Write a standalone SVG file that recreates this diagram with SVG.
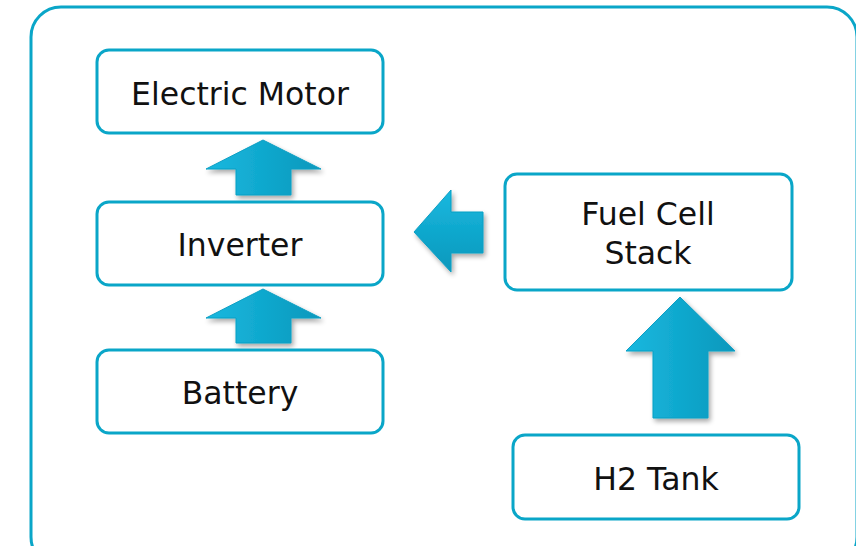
<svg xmlns="http://www.w3.org/2000/svg" width="856" height="546" viewBox="0 0 856 546">
<style>
.box{fill:#fff;stroke:#0aa6c8;stroke-width:3}
.lbl{font-family:"DejaVu Sans",Verdana,sans-serif;font-size:31.5px;fill:#111;text-anchor:middle}
.arrow{fill:url(#ag);stroke:#0b9fc4;stroke-width:1;filter:url(#sh)}
</style>
<defs>
<linearGradient id="ag" x1="0" y1="0" x2="1" y2="0">
<stop offset="0" stop-color="#19b8df"/>
<stop offset="1" stop-color="#0798bc"/>
</linearGradient>
<linearGradient id="agv" x1="0" y1="0" x2="0" y2="1">
<stop offset="0" stop-color="#19b8df"/>
<stop offset="1" stop-color="#0798bc"/>
</linearGradient>
<filter id="sh" x="-20%" y="-20%" width="150%" height="150%">
<feGaussianBlur in="SourceAlpha" stdDeviation="2.5"/>
<feOffset dx="2" dy="3" result="b"/>
<feComponentTransfer><feFuncA type="linear" slope="0.35"/></feComponentTransfer>
<feMerge><feMergeNode/><feMergeNode in="SourceGraphic"/></feMerge>
</filter>
</defs>
<rect id="frame" x="31" y="7" width="826" height="560" rx="30" fill="none" stroke="#0aa6c8" stroke-width="3"/>
<g id="connectors">
<polygon class="arrow" points="263,140 321,169 291,169 291,195 236,195 236,169 206,169"/>
<polygon class="arrow" points="263,289 321,318 291,318 291,343 236,343 236,318 206,318"/>
<polygon class="arrow" style="fill:url(#agv)" points="414,232 451,190 451,212 483,212 483,253 451,253 451,272"/>
<polygon class="arrow" points="680,297 735,351 708,351 708,418 653,418 653,351 626,351"/>
</g>
<g id="motor"><rect class="box" x="97" y="50" width="286" height="83" rx="12"/><text class="lbl" x="240" y="105">Electric Motor</text></g>
<g id="inverter"><rect class="box" x="97" y="202" width="286" height="83" rx="12"/><text class="lbl" x="240" y="256">Inverter</text></g>
<g id="battery"><rect class="box" x="97" y="350" width="286" height="83" rx="12"/><text class="lbl" x="240" y="404">Battery</text></g>
<g id="fuelcell"><rect class="box" x="505" y="174" width="287" height="116" rx="12"/><text class="lbl" x="648" y="225">Fuel Cell</text><text class="lbl" x="648" y="264">Stack</text></g>
<g id="h2tank"><rect class="box" x="513" y="435" width="286" height="84" rx="12"/><text class="lbl" x="656" y="490">H2 Tank</text></g>
</svg>
